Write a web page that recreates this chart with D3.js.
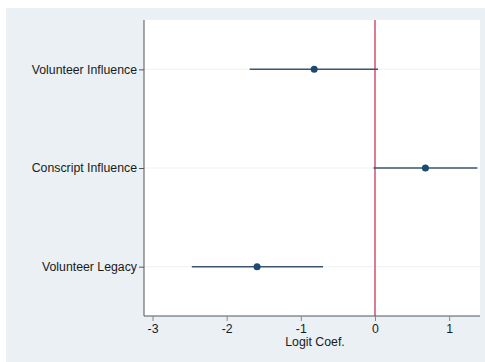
<!DOCTYPE html>
<html><head><meta charset="utf-8">
<script src="https://cdn.jsdelivr.net/npm/d3@7"></script>
<style>html,body{margin:0;padding:0;background:#fff;}svg{display:block;}</style>
</head><body>
<script>
const categories = ["Volunteer Influence", "Conscript Influence", "Volunteer Legacy"];
const estimates = [-0.82, 0.68, -1.59];
const lower = [-1.69, -0.02, -2.47];
const upper = [0.04, 1.38, -0.70];
const xTicks = [-3, -2, -1, 0, 1];
const xTitle = "Logit Coef.";

(function () {
const W = 485, H = 362;
const svg = d3.select("body").append("svg").attr("width", W).attr("height", H);
svg.append("rect").attr("x", 6).attr("y", 8).attr("width", W - 6).attr("height", H - 8).attr("fill", "#eaf0f4");

const pL = 144, pR = 480, pT = 20, pB = 316;
svg.append("rect").attr("x", pL).attr("y", pT).attr("width", pR - pL).attr("height", pB - pT).attr("fill", "#fff");

const x = d3.scaleLinear().domain([-3.115, 1.416]).range([pL, pR]);
const y = d3.scaleLinear().domain([0.5, 3.5]).range([pB, pT]);
const yPos = (i) => y(categories.length - i);

const font = "Liberation Sans, Arial, Helvetica, sans-serif";
const fs = 12.3;

svg.append("g").selectAll("line").data(categories).join("line")
  .attr("x1", pL).attr("x2", pR)
  .attr("y1", (d, i) => yPos(i)).attr("y2", (d, i) => yPos(i))
  .attr("stroke", "#eef1f3").attr("stroke-width", 1);

svg.append("line").attr("x1", x(0)).attr("x2", x(0)).attr("y1", pT).attr("y2", pB)
  .attr("stroke", "#d0506e").attr("stroke-width", 1.5);

svg.append("g").selectAll("line").data(categories).join("line")
  .attr("x1", (d, i) => x(lower[i])).attr("x2", (d, i) => x(upper[i]))
  .attr("y1", (d, i) => yPos(i)).attr("y2", (d, i) => yPos(i))
  .attr("stroke", "#3a5570").attr("stroke-width", 1.5);

svg.append("g").selectAll("circle").data(categories).join("circle")
  .attr("cx", (d, i) => x(estimates[i])).attr("cy", (d, i) => yPos(i))
  .attr("r", 3.5).attr("fill", "#1b4a72");

const yAxis = d3.axisLeft(d3.scaleOrdinal().domain(categories).range(categories.map((d, i) => yPos(i))))
  .tickSize(5).tickPadding(2);
const gy = svg.append("g").attr("transform", `translate(${pL},0)`).call(yAxis);
gy.select(".domain").attr("stroke", "#555").attr("d", `M0,${pT}V${pB}`);
gy.selectAll(".tick line").attr("stroke", "#555");
gy.selectAll(".tick text").attr("font-family", font).attr("font-size", fs).attr("fill", "#1a1a1a");

const xAxis = d3.axisBottom(x).tickValues(xTicks).tickSize(5).tickPadding(3).tickFormat(d3.format("d"));
const gx = svg.append("g").attr("transform", `translate(0,${pB})`).call(xAxis);
gx.select(".domain").attr("stroke", "#555").attr("d", `M${pL},0H${pR}`);
gx.selectAll(".tick line").attr("stroke", "#888");
gx.selectAll(".tick text").attr("font-family", font).attr("font-size", fs).attr("fill", "#1a1a1a")
  .text(d => d < 0 ? "-" + Math.abs(d) : d);

svg.append("text").attr("x", 315).attr("y", 346).attr("text-anchor", "middle")
  .attr("font-family", font).attr("font-size", fs).attr("fill", "#1a1a1a").text(xTitle);
})();
</script>
</body></html>
